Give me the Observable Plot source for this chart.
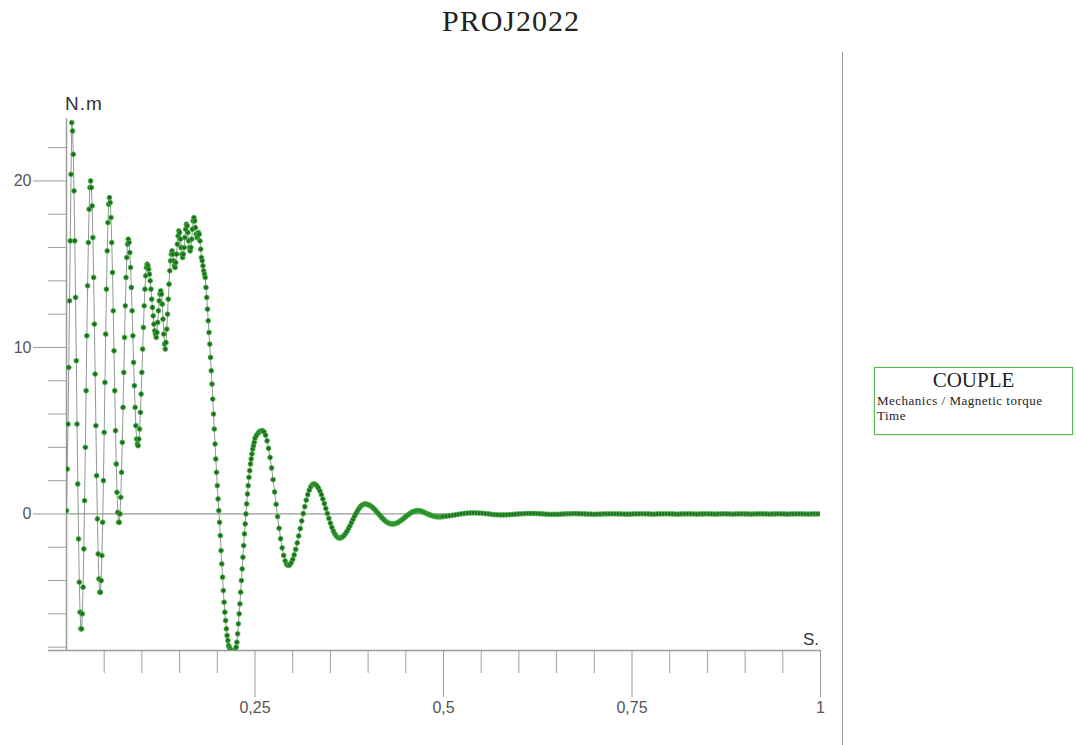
<!DOCTYPE html>
<html>
<head>
<meta charset="utf-8">
<script src="https://cdn.jsdelivr.net/npm/d3@7"></script>
<script src="https://cdn.jsdelivr.net/npm/@observablehq/plot@0.6"></script>
<style>
  html, body { margin: 0; padding: 0; background: #fff; }
  #wrap { position: relative; width: 1076px; height: 745px; overflow: hidden; background: #fff; }
  #wrap svg { position: absolute; left: 0; top: 0; }
  .abs { position: absolute; white-space: nowrap; }
  #title { left: 411px; top: 6px; width: 200px; text-align: center; font: 30px/30px "Liberation Serif", "DejaVu Serif", serif; color: #222; letter-spacing: 1px; }
  #ylab { left: 65px; top: 94px; font: 19px/19px "Liberation Sans", Arial, sans-serif; color: #333; letter-spacing: 1px; }
  #xlab { left: 803px; top: 631px; font: 17px/17px "Liberation Sans", Arial, sans-serif; color: #333; }
  #sep { left: 842px; top: 52px; width: 1px; height: 693px; background: #9a9a9a; }
  #legend { left: 874px; top: 367px; width: 197px; height: 66px; border: 1.5px solid #5cb85c; box-shadow: 0 0 2px #a8e4a8; background: #fff; }
  #legend .name { position: absolute; left: 0; top: 0; width: 197px; text-align: center; font: 21px/24px "Liberation Serif", serif; color: #222; }
  #legend .sub { position: absolute; left: 2px; font: 13px/14px "Liberation Serif", serif; color: #222; letter-spacing: 0.5px; }
</style>
</head>
<body>
<div id="wrap">
  <div id="title" class="abs">PROJ2022</div>
  <div id="ylab" class="abs">N.m</div>
  <div id="xlab" class="abs">S.</div>
  <div id="sep" class="abs"></div>
  <div id="legend" class="abs">
    <div class="name">COUPLE</div>
    <div class="sub" style="top:26px">Mechanics / Magnetic torque</div>
    <div class="sub" style="top:41px">Time</div>
  </div>
</div>
<script>
// ---- Data: torque (N.m) vs time (s) ----
// Segment A: t = 0.000 .. 0.249 s, sampled every 0.001 s
const segAStart = 0, segAStep = 0.001;
const segA = [
  0.2, 2.7, 5.4, 8.8, 12.8, 16.4, 20.4, 23.5,
  23.0, 21.6, 19.4, 16.4, 13.0, 9.2, 5.4, 1.8, -1.5, -4.1, -5.9, -6.9,
  -6.9, -6.0, -4.4, -2.1, 0.8, 4.0, 7.4, 10.7, 13.7, 16.3, 18.3, 19.6, 20.0,
  19.6, 18.5, 16.6, 14.2, 11.4, 8.4, 5.3, 2.3, -0.3, -2.4, -3.9, -4.7,
  -4.7, -4.0, -2.5, -0.5, 2.0, 4.9, 7.9, 10.8, 13.5, 15.8, 17.5, 18.6, 19.0,
  18.7, 17.8, 16.3, 14.5, 12.2, 9.8, 7.4, 5.0, 3.0, 1.3, 0.1, -0.5,
  -0.5, 0.0, 1.0, 2.5, 4.3, 6.4, 8.5, 10.6, 12.5, 14.2, 15.4, 16.2, 16.5,
  16.3, 15.7, 14.8, 13.6, 12.2, 10.7, 9.1, 7.7, 6.4, 5.3, 4.5, 4.2,
  4.1, 4.5, 5.1, 6.1, 7.2, 8.5, 9.9, 11.2, 12.5, 13.5, 14.3, 14.8, 15.0,
  14.9, 14.7, 14.4, 14.0, 13.5, 12.9, 12.4, 11.9, 11.4, 11.0, 10.8, 10.6,
  10.9, 11.5, 12.2, 12.8, 13.2, 13.4, 13.2, 12.6, 11.7, 10.8, 10.2, 9.9,
  10.3, 11.1, 12.0, 12.9, 13.8, 14.6, 15.2, 15.6, 15.8,
  15.6, 15.2, 14.9, 14.8, 15.1, 15.6, 16.2, 16.7, 17.0, 16.9, 16.5, 16.0, 15.6, 15.4, 15.6,
  16.0, 16.6, 17.1, 17.4, 17.3, 16.9, 16.4, 16.0, 15.8, 16.0, 16.5, 17.1, 17.6, 17.8,
  17.6, 17.2, 16.8, 16.6, 16.7, 16.9, 16.8, 16.4, 15.9, 15.4, 15.2, 14.9, 14.6, 14.4,
  14.2, 13.6, 13.0, 12.3, 11.6, 10.9,
  10.2, 9.4, 8.6, 7.8, 6.9, 6.0, 5.1, 4.2, 3.3, 2.5,
  1.7, 0.9, 0.2, -0.5, -1.3, -2.2, -3.0, -3.8, -4.6, -5.3,
  -5.9, -6.4, -6.9, -7.3, -7.6, -7.9, -8.0, -8.1, -8.2, -8.2,
  -8.3, -8.3, -8.3, -8.2, -8.2, -8.0, -7.7, -7.2, -6.6, -6.0,
  -5.4, -4.7, -4.0, -3.3, -2.6, -1.9, -1.2, -0.6, 0.0, 0.6,
  1.2, 1.7, 2.2, 2.6, 3.0, 3.3, 3.6, 3.9, 4.1, 4.3
];
// Segment B: t = 0.250 .. 0.498 s, sampled every 0.002 s
const segBStart = 0.25, segBStep = 0.002;
const segB = [
  4.55, 4.72, 4.85, 4.94, 4.99, 5.00,
  4.93, 4.73, 4.39, 3.94, 3.39, 2.76, 2.06, 1.32, 0.58, -0.16, -0.86, -1.49, -2.04, -2.49, -2.82, -3.03, -3.10,
  -3.06, -2.93, -2.73, -2.46, -2.13, -1.74, -1.32, -0.88, -0.42, 0.02, 0.44, 0.83, 1.16, 1.43, 1.63, 1.76, 1.80,
  1.77, 1.69, 1.56, 1.38, 1.16, 0.90, 0.62, 0.33, 0.03, -0.27, -0.55, -0.81, -1.03, -1.21, -1.34, -1.42, -1.45,
  -1.43, -1.38, -1.30, -1.18, -1.04, -0.88, -0.71, -0.52, -0.33, -0.14, 0.03, 0.19, 0.33, 0.45, 0.53, 0.58, 0.60,
  0.59, 0.56, 0.52, 0.46, 0.39, 0.30, 0.21, 0.10, 0.00, -0.10, -0.21, -0.30, -0.39, -0.46, -0.52, -0.56, -0.59, -0.60,
  -0.60, -0.58, -0.55, -0.50, -0.44, -0.38, -0.31, -0.24, -0.16, -0.09, -0.02, 0.04, 0.10, 0.14, 0.17, 0.19, 0.20,
  0.19, 0.17, 0.14, 0.10, 0.06, 0.02, -0.02, -0.06, -0.09, -0.12, -0.14, -0.16, -0.17, -0.17, -0.17, -0.16
];
// Segment C: t = 0.500 .. 1.000 s, sampled every 0.004 s
const segCStart = 0.5, segCStep = 0.004;
const segC = [
  -0.15, -0.13, -0.11, -0.08, -0.05, -0.02, 0.01, 0.03, 0.05, 0.06,
  0.06, 0.06, 0.05, 0.04, 0.02, 0.00, -0.02, -0.04, -0.05, -0.06,
  -0.06, -0.05, -0.04, -0.03, -0.01, 0.00, 0.01, 0.02, 0.03, 0.03,
  0.03, 0.02, 0.01, 0.00, -0.01, -0.02, -0.02, -0.02, -0.02, -0.01,
  0.00, 0.01, 0.01, 0.02, 0.02, 0.01, 0.01, 0.00, -0.01, -0.01,
  -0.02, -0.01, -0.01, 0.00, 0.00, 0.01, 0.01, 0.01, 0.00, 0.00,
  -0.01, -0.01, -0.01, 0.00, 0.00, 0.01, 0.01, 0.00, 0.00, -0.01,
  -0.01, 0.00, 0.00, 0.01, 0.01, 0.00, 0.00, -0.01, -0.01, 0.00,
  0.00, 0.01, 0.00, 0.00, -0.01, 0.00, 0.00, 0.01, 0.00, 0.00,
  -0.01, 0.00, 0.00, 0.01, 0.00, 0.00, -0.01, 0.00, 0.00, 0.01,
  0.00, 0.00, -0.01, 0.00, 0.00, 0.01, 0.00, 0.00, -0.01, 0.00,
  0.00, 0.01, 0.00, 0.00, -0.01, 0.00, 0.00, 0.00, 0.01, 0.00,
  0.00, -0.01, 0.00, 0.00, 0.00, 0.00
];

// ---- Axis ticks and labels ----
const xDomain = [0, 1];
const yDomain = [-8.2, 23.75];
const xMinorTicks = [0.05, 0.1, 0.15, 0.2, 0.3, 0.35, 0.4, 0.45, 0.55, 0.6, 0.65, 0.7, 0.8, 0.85, 0.9, 0.95];
const xMajorTicks = [0.25, 0.5, 0.75, 1];
const xTickLabels = ["0,25", "0,5", "0,75", "1"];
const yMinorTicks = [-8, -6, -4, -2, 2, 4, 6, 8, 12, 14, 16, 18, 22];
const yMajorTicks = [0, 10, 20];
const yTickLabels = ["0", "10", "20"];
const xAxisLineStart = -0.024;

// ---- Build table ----
const rows = [];
segA.forEach((v, i) => rows.push({t: +(segAStart + i * segAStep).toFixed(4), v}));
segB.forEach((v, i) => rows.push({t: +(segBStart + i * segBStep).toFixed(4), v}));
segC.forEach((v, i) => rows.push({t: +(segCStart + i * segCStep).toFixed(4), v}));

const xLab = new Map(xMajorTicks.map((d, i) => [d, xTickLabels[i]]));
const yLab = new Map(yMajorTicks.map((d, i) => [d, yTickLabels[i]]));

const chart = Plot.plot({
  width: 1076,
  height: 745,
  marginLeft: 66,
  marginRight: 256,
  marginTop: 118,
  marginBottom: 95,
  x: {domain: xDomain, label: null},
  y: {domain: yDomain, label: null},
  style: {fontFamily: "'Liberation Sans', Arial, sans-serif", fontSize: "16px", background: "transparent", overflow: "visible"},
  marks: [
    Plot.ruleY([0], {stroke: "#9a9a9a", strokeWidth: 1.2}),
    Plot.ruleX([0], {stroke: "#9a9a9a", strokeWidth: 1.5}),
    Plot.ruleY([yDomain[0]], {x1: xAxisLineStart, x2: xDomain[1], stroke: "#9a9a9a", strokeWidth: 1.5}),
    Plot.axisY(yMinorTicks, {tickSize: 18, stroke: "#a0a0a0", fill: "none", label: null}),
    Plot.axisY(yMajorTicks, {tickSize: 33, tickPadding: 2, stroke: "#9a9a9a", fill: "#555", fontSize: 16, label: null, tickFormat: d => yLab.get(d)}),
    Plot.axisX(xMinorTicks, {tickSize: 23, stroke: "#a0a0a0", fill: "none", label: null}),
    Plot.axisX(xMajorTicks, {tickSize: 47, tickPadding: 4, stroke: "#9a9a9a", fill: "#555", fontSize: 16, label: null, tickFormat: d => xLab.get(d)}),
    Plot.line(rows, {x: "t", y: "v", stroke: "#8f9c8f", strokeWidth: 1, clip: true}),
    Plot.dot(rows, {x: "t", y: "v", r: 2.4, fill: "#236b23", stroke: "#40b840", strokeWidth: 0.8, clip: true})
  ]
});
document.getElementById("wrap").prepend(chart);
</script>
</body>
</html>
